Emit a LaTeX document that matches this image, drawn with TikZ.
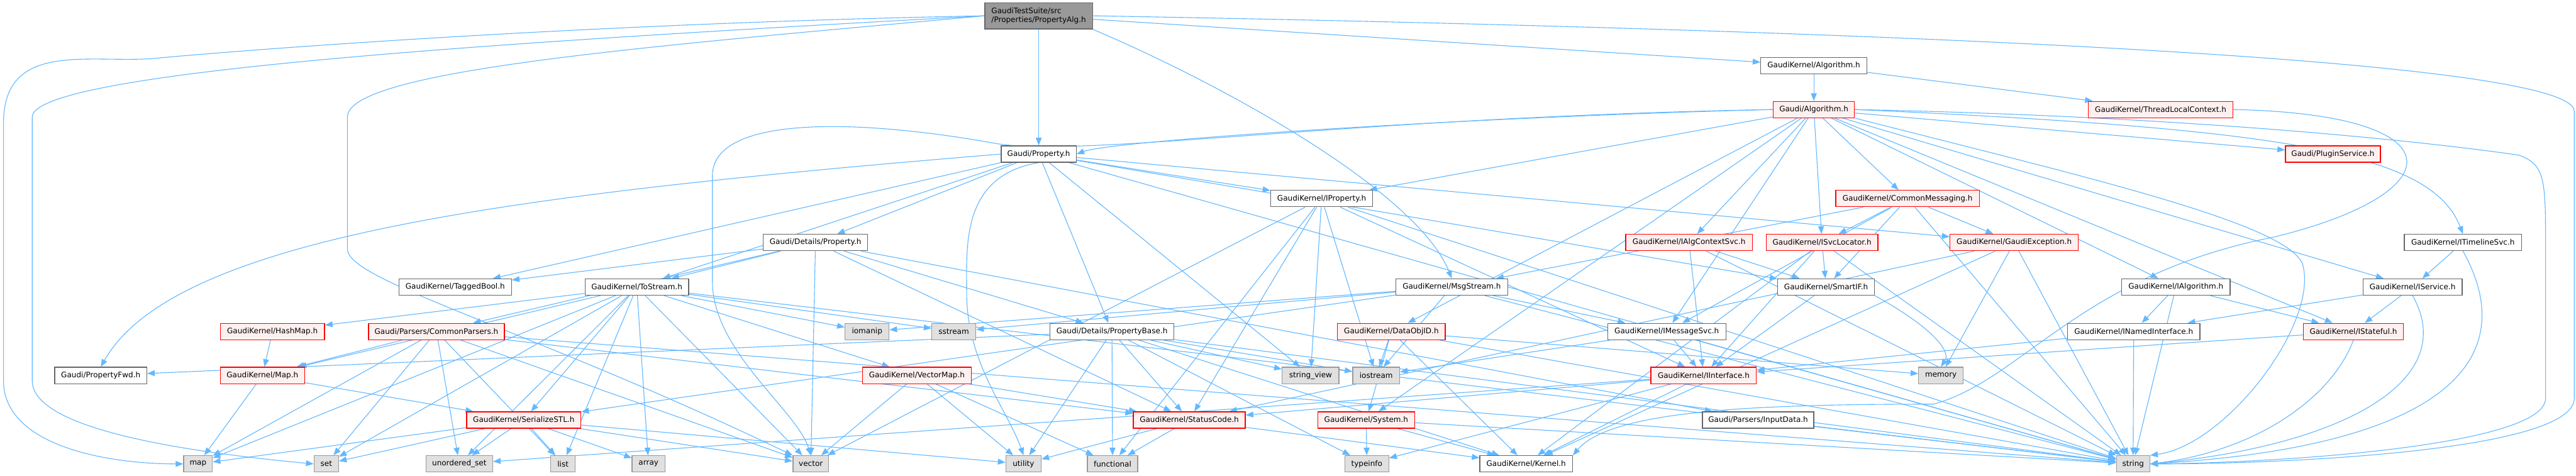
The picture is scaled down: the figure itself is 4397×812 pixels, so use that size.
\documentclass[tikz,border=0pt]{standalone}
\usepackage{fontspec}
\setmainfont{DejaVu Sans}
\usetikzlibrary{arrows.meta}
\pgfdeclarelayer{bg}
\pgfsetlayers{bg,main}
\definecolor{edgec}{HTML}{63B8FF}
\definecolor{redb}{HTML}{FF0000}
\definecolor{redf}{HTML}{FFF0F0}
\definecolor{grayf}{HTML}{E0E0E0}
\definecolor{grayb}{HTML}{999999}
\definecolor{darkb}{HTML}{666666}
\definecolor{topf}{HTML}{999999}
\tikzset{
  box/.style={draw=darkb, fill=white, line width=0.7pt, minimum height=14pt, inner sep=0pt, font=\fontsize{6.45}{8}\selectfont},
  redbox/.style={box, draw=redb, fill=redf},
  sysbox/.style={box, draw=grayb, fill=grayf},
  topbox/.style={box, draw=darkb, fill=topf, align=left, minimum height=22.5pt},
  e/.style={draw=edgec, line width=0.6pt, -{Triangle[length=6.5pt,width=5pt]}}
}
\begin{document}
\begin{tikzpicture}[x=0.5pt,y=-0.5pt]
\useasboundingbox (0,0) rectangle (4397,812);
% row 1
\node[topbox, minimum width=92pt] (alg0) at (1773,27) {GaudiTestSuite/src\\/Properties/PropertyAlg.h};
% row 2
\node[box, minimum width=90.5pt] (gkalg) at (3096,112) {GaudiKernel/Algorithm.h};
% row 3
\node[redbox, minimum width=69.5pt] (galg) at (3096,187) {Gaudi/Algorithm.h};
\node[redbox, minimum width=123.5pt] (tlc) at (3688,187) {GaudiKernel/ThreadLocalContext.h};
% row 4
\node[box, minimum width=64pt] (prop) at (1773,263) {Gaudi/Property.h};
\node[redbox, minimum width=81pt] (plug) at (3982,263) {Gaudi/PluginService.h};
% row 5
\node[box, minimum width=87pt] (iprop) at (2256,339) {GaudiKernel/IProperty.h};
\node[redbox, minimum width=122.5pt] (cmsg) at (3256,339) {GaudiKernel/CommonMessaging.h};
% row 6
\node[box, minimum width=89pt] (dprop) at (1392,414) {Gaudi/Details/Property.h};
\node[redbox, minimum width=108pt] (iacs) at (2883,414) {GaudiKernel/IAlgContextSvc.h};
\node[redbox, minimum width=95.5pt] (isvcl) at (3110,414) {GaudiKernel/ISvcLocator.h};
\node[redbox, minimum width=109.5pt] (gexc) at (3438,414) {GaudiKernel/GaudiException.h};
\node[box, minimum width=100pt] (itl) at (4204,414) {GaudiKernel/ITimelineSvc.h};
% row 7
\node[box, minimum width=96pt] (tbool) at (777,490) {GaudiKernel/TaggedBool.h};
\node[box, minimum width=88.5pt] (tostr) at (1087,490) {GaudiKernel/ToStream.h};
\node[box, minimum width=95.5pt] (msgs) at (2478,490) {GaudiKernel/MsgStream.h};
\node[box, minimum width=82.5pt] (smartif) at (3117,490) {GaudiKernel/SmartIF.h};
\node[box, minimum width=92.5pt] (ialg) at (3714,490) {GaudiKernel/IAlgorithm.h};
\node[box, minimum width=84.5pt] (isvc) at (4118,490) {GaudiKernel/IService.h};
% row 8
\node[redbox, minimum width=89pt] (hmap) at (465,566) {GaudiKernel/HashMap.h};
\node[redbox, minimum width=116pt] (cpars) at (745,566) {Gaudi/Parsers/CommonParsers.h};
\node[sysbox, minimum width=37.5pt] (iomanip) at (1480,566) {iomanip};
\node[sysbox, minimum width=37.5pt] (sstream) at (1628,566) {sstream};
\node[box, minimum width=106pt] (pbase) at (1898,566) {Gaudi/Details/PropertyBase.h};
\node[redbox, minimum width=92pt] (dobj) at (2375,566) {GaudiKernel/DataObjID.h};
\node[box, minimum width=101pt] (imsg) at (2845,566) {GaudiKernel/IMessageSvc.h};
\node[box, minimum width=113pt] (inamed) at (3642,566) {GaudiKernel/INamedInterface.h};
\node[redbox, minimum width=85.5pt] (istate) at (4017,566) {GaudiKernel/IStateful.h};
% row 9
\node[box, minimum width=78.5pt] (pfwd) at (172,641) {Gaudi/PropertyFwd.h};
\node[redbox, minimum width=72pt] (gmap) at (448,641) {GaudiKernel/Map.h};
\node[redbox, minimum width=93pt] (vmap) at (1565,641) {GaudiKernel/VectorMap.h};
\node[sysbox, minimum width=48.5pt] (strv) at (2237,641) {string\_view};
\node[sysbox, minimum width=40pt] (iostr) at (2349,641) {iostream};
\node[redbox, minimum width=90pt] (iint) at (2908,641) {GaudiKernel/IInterface.h};
\node[sysbox, minimum width=38pt] (memory) at (3313,641) {memory};
% row 10
\node[redbox, minimum width=97.5pt] (ser) at (894,717) {GaudiKernel/SerializeSTL.h};
\node[redbox, minimum width=95.5pt] (sc) at (2030,717) {GaudiKernel/StatusCode.h};
\node[redbox, minimum width=82.5pt] (sys) at (2332,717) {GaudiKernel/System.h};
\node[box, minimum width=95pt] (inp) at (3001,717) {Gaudi/Parsers/InputData.h};
% row 11
\node[sysbox, minimum width=24.5pt] (nmap) at (338,792) {map};
\node[sysbox, minimum width=21pt] (nset) at (557,792) {set};
\node[sysbox, minimum width=57pt] (uset) at (784,792) {unordered\_set};
\node[sysbox, minimum width=21pt] (nlist) at (961,792) {list};
\node[sysbox, minimum width=28pt] (narray) at (1107,792) {array};
\node[sysbox, minimum width=30.5pt] (nvector) at (1384,792) {vector};
\node[sysbox, minimum width=30pt] (utility) at (1747,792) {utility};
\node[sysbox, minimum width=43pt] (functional) at (1899,792) {functional};
\node[sysbox, minimum width=37.5pt] (typeinfo) at (2333,792) {typeinfo};
\node[box, minimum width=79pt] (kernel) at (2605,792) {GaudiKernel/Kernel.h};
\node[sysbox, minimum width=28.5pt] (nstring) at (3641,792) {string};

\begin{pgfonlayer}{bg}
\foreach \a/\b in {alg0/prop, alg0/gkalg, gkalg/galg, gkalg/tlc,
  galg/plug, galg/iprop, galg/cmsg, galg/iacs, galg/isvcl, galg/dobj, galg/imsg, galg/ialg, galg/isvc, galg/istate, galg/sys,
  prop/dprop, prop/pbase, prop/iprop, prop/smartif, prop/tbool, prop/tostr, prop/strv, prop/gexc,
  dprop/pbase, dprop/tostr, dprop/tbool, dprop/cpars, dprop/inp, dprop/nvector, dprop/sc,
  tostr/hmap, tostr/gmap, tostr/nmap, tostr/nset, tostr/ser, tostr/vmap, tostr/uset, tostr/nlist, tostr/narray, tostr/nvector, tostr/iomanip, tostr/sstream,
  cpars/gmap, cpars/nmap, cpars/nset, cpars/uset, cpars/nlist, cpars/nvector, cpars/sc,
  hmap/gmap, gmap/nmap, gmap/ser,
  ser/nmap, ser/nset, ser/uset, ser/nlist, ser/narray, ser/nvector, ser/utility,
  vmap/nvector, vmap/utility, vmap/functional, vmap/sc,
  pbase/pfwd, pbase/kernel, pbase/sc, pbase/functional, pbase/iostr, pbase/strv, pbase/typeinfo, pbase/utility,
  sc/utility, sc/functional, sc/kernel,
  sys/kernel, sys/typeinfo,
  iint/kernel, iint/sc, iint/typeinfo, iint/uset,
  ialg/inamed, ialg/istate, isvc/inamed, isvc/istate, itl/isvc,
  inamed/iint, istate/iint, imsg/iint, imsg/iostr,
  msgs/imsg, msgs/ser, msgs/iomanip, msgs/sstream, msgs/iostr,
  smartif/iint,
  iprop/iint, iprop/sc, iprop/functional, iprop/iostr, iprop/strv, iprop/nvector,
  dobj/iostr, dobj/kernel, dobj/memory, dobj/sys,
  iacs/iint, iacs/smartif, isvcl/iint, isvcl/smartif, isvcl/kernel,
  cmsg/msgs, cmsg/imsg, cmsg/isvcl, cmsg/smartif, cmsg/gexc,
  gexc/sc, gexc/kernel, gexc/memory,
  tostr/nstring, cpars/nstring, pbase/nstring, iprop/nstring, dobj/nstring, sys/nstring, imsg/nstring, msgs/nstring,
  cmsg/nstring, gexc/nstring, inamed/nstring, ialg/nstring, iacs/nstring, isvcl/nstring, inp/nstring, prop/nstring}
  \draw[e] (\a) -- (\b);
% long curved edges
\draw[e] (alg0.west) .. controls (1000,40) and (420,85) .. (260,100) .. controls (150,108) and (6,70) .. (6,210) -- (6,650) .. controls (6,760) and (180,792) .. (nmap.west);
\draw[e] (alg0.west) .. controls (900,70) and (55,120) .. (55,200) -- (55,650) .. controls (55,730) and (300,770) .. (nset.west);
\draw[e] (alg0.west) .. controls (1100,80) and (593,120) .. (593,200) -- (593,425) .. controls (593,480) and (900,560) .. (nvector.north west);
\draw[e] (alg0.east) .. controls (2600,40) and (4394,80) .. (4394,190) -- (4394,680) .. controls (4394,770) and (3900,792) .. (nstring.east);
\draw[e] (alg0.south east) .. controls (2100,150) and (2420,330) .. (msgs.north);
\draw[e] (galg.west) .. controls (2500,200) and (1900,240) .. (prop.east);
\draw[e] (galg.west) .. controls (2300,200) and (1850,270) .. (1700,245) .. controls (1450,200) and (1216,200) .. (1216,300) -- (1216,480) .. controls (1216,600) and (1360,700) .. (nvector.north);
\draw[e] (galg.east) .. controls (3800,200) and (4200,250) .. (4300,265) .. controls (4340,280) and (4345,300) .. (4345,400) -- (4345,680) .. controls (4345,760) and (3900,790) .. (nstring.east);
\draw[e] (galg.east) .. controls (3900,220) and (4150,260) .. (itl.north);
\draw[e] (prop.west) .. controls (900,330) and (300,400) .. (pfwd.north);
\draw[e] (prop.south) .. controls (1640,300) and (1650,420) .. (1650,500) .. controls (1650,620) and (1720,700) .. (utility.north);
\draw[e] (itl.south) .. controls (4300,600) and (4200,760) .. (nstring.east);
\draw[e] (isvc.south) .. controls (4200,650) and (4000,760) .. (nstring.east);
\draw[e] (istate.south) .. controls (3980,680) and (3850,770) .. (nstring.east);
\draw[e] (galg.south east) .. controls (3550,300) and (3900,380) .. (3930,450) .. controls (3960,550) and (3800,760) .. (nstring.north east);
\draw[e] (smartif.south east) .. controls (3300,560) and (3330,600) .. (memory.north);
\draw[e] (tlc.east) .. controls (4200,195) and (4190,330) .. (3880,405) .. controls (3550,470) and (3450,650) .. (3300,690) .. controls (3000,690) and (2750,700) .. (kernel.north east);
\end{pgfonlayer}
\end{tikzpicture}
\end{document}
